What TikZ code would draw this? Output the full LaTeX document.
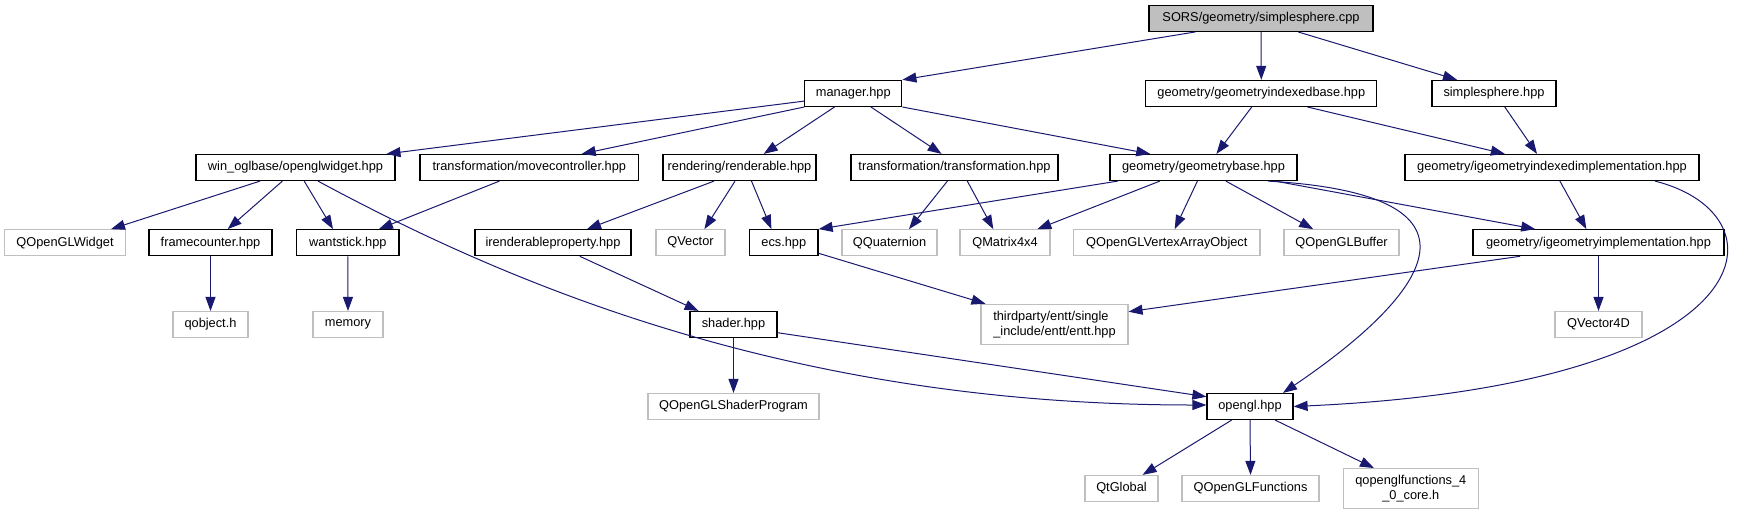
\documentclass[tikz,border=0pt]{standalone}
\usepackage{fontspec}
\setmainfont{Liberation Sans}
\usetikzlibrary{arrows.meta}
\definecolor{edgeblue}{HTML}{191970}
\definecolor{extgrey}{HTML}{BFBFBF}
\begin{document}
\begin{tikzpicture}[x=1pt,y=-1pt,
 every node/.style={font=\fontsize{12.8}{14.5}\selectfont, inner sep=0pt, minimum height=26pt},
 filebox/.style={draw=black, line width=1.2pt},
 extbox/.style={draw=extgrey, line width=1.1pt},
 rootbox/.style={draw=black, fill=extgrey, line width=1.2pt},
 dep/.style={draw=edgeblue, line width=1pt, -{Triangle[length=14pt,width=10pt]}, edgeblue}]
\useasboundingbox (0,0) rectangle (1745,515);
% row 1
\node[rootbox, minimum width=224pt] (sors) at (1261,18.3) {SORS/geometry/simplesphere.cpp};
% row 2
\node[filebox, minimum width=97pt] (manager) at (853.3,93.4) {manager.hpp};
\node[filebox, minimum width=231pt] (gib) at (1261.3,93.4) {geometry/geometryindexedbase.hpp};
\node[filebox, minimum width=124pt] (ss) at (1494,93.4) {simplesphere.hpp};
% row 3
\node[filebox, minimum width=199pt] (ogw) at (295.5,167.5) {win\_oglbase/openglwidget.hpp};
\node[filebox, minimum width=218.6pt] (movec) at (529.3,167.5) {transformation/movecontroller.hpp};
\node[filebox, minimum width=153pt] (rend) at (739.5,167.5) {rendering/renderable.hpp};
\node[filebox, minimum width=207pt] (trans) at (954.5,167.5) {transformation/transformation.hpp};
\node[filebox, minimum width=187pt] (gbase) at (1203.5,167.5) {geometry/geometrybase.hpp};
\node[filebox, minimum width=294pt] (gidx) at (1552,167.5) {geometry/igeometryindexedimplementation.hpp};
% row 4
\node[extbox, minimum width=121pt] (qglw) at (65,242.7) {QOpenGLWidget};
\node[filebox, minimum width=123pt] (fc) at (210.5,242.7) {framecounter.hpp};
\node[filebox, minimum width=102.4pt] (ws) at (347.8,242.7) {wantstick.hpp};
\node[filebox, minimum width=156pt] (irp) at (553,242.7) {irenderableproperty.hpp};
\node[extbox, minimum width=69pt] (qvec) at (690.5,242.7) {QVector};
\node[filebox, minimum width=68.5pt] (ecs) at (783.8,242.7) {ecs.hpp};
\node[extbox, minimum width=95pt] (qquat) at (889.5,242.7) {QQuaternion};
\node[extbox, minimum width=90pt] (qmat) at (1005,242.7) {QMatrix4x4};
\node[extbox, minimum width=186.4pt] (qvao) at (1166.8,242.7) {QOpenGLVertexArrayObject};
\node[extbox, minimum width=115pt] (qbuf) at (1341.5,242.7) {QOpenGLBuffer};
\node[filebox, minimum width=251pt] (gimpl) at (1598.5,242.7) {geometry/igeometryimplementation.hpp};
% row 5
\node[extbox, minimum width=75pt] (qobj) at (210.5,324.5) {qobject.h};
\node[extbox, minimum width=70pt] (mem) at (348,324.5) {memory};
\node[filebox, minimum width=87pt] (shader) at (733.5,324.5) {shader.hpp};
\node[extbox, minimum width=147pt, minimum height=40.4pt, align=left] (entt) at (1054.5,324.5) {thirdparty/entt/single\\\_include/entt/entt.hpp};
\node[extbox, minimum width=87pt] (qv4d) at (1598.5,324.5) {QVector4D};
% row 6
\node[extbox, minimum width=171pt] (qglsp) at (733.5,406.5) {QOpenGLShaderProgram};
\node[filebox, minimum width=86pt] (gl) at (1250,406.5) {opengl.hpp};
% row 7
\node[extbox, minimum width=73pt] (qtg) at (1121.5,488.4) {QtGlobal};
\node[extbox, minimum width=137pt] (qglf) at (1250.5,488.4) {QOpenGLFunctions};
\node[extbox, minimum width=134.5pt, minimum height=40pt, align=center] (qglf40) at (1410.8,488.6) {qopenglfunctions\_4\\\_0\_core.h};

% edges
\draw[dep] ([xshift=-65.5pt]sors.south) -- (manager.north east);
\draw[dep] (sors.south) -- (gib.north);
\draw[dep] ([xshift=37pt]sors.south) -- ([xshift=-37pt]ss.north);
\draw[dep] ([yshift=-7.7pt]manager.west) -- ([xshift=91pt]ogw.north);
\draw[dep] (manager.south west) -- ([xshift=52.4pt]movec.north);
\draw[dep] ([xshift=-18.8pt]manager.south) -- ([xshift=24.2pt]rend.north);
\draw[dep] ([xshift=17.6pt]manager.south) -- ([xshift=-12.9pt]trans.north);
\draw[dep] (manager.south east) -- ([xshift=-53.3pt]gbase.north);
\draw[dep] ([xshift=-9.6pt]gib.south) -- ([xshift=12.9pt]gbase.north);
\draw[dep] ([xshift=46.2pt]gib.south) -- ([xshift=-47.2pt]gidx.north);
\draw[dep] ([xshift=10.8pt]ss.south) -- ([xshift=-15pt]gidx.north);
\draw[dep] ([xshift=-35.5pt]ogw.south) -- ([xshift=46pt]qglw.north);
\draw[dep] ([xshift=-13.1pt]ogw.south) -- ([xshift=17.2pt]fc.north);
\draw[dep] ([xshift=8.7pt]ogw.south) -- ([xshift=-14.8pt]ws.north);
\draw[dep] ([xshift=22.5pt]ogw.south) .. controls (520,290) and (800,405) .. ([yshift=1.5pt]gl.west);
\draw[dep] ([xshift=-29.9pt]movec.south) -- ([xshift=31.1pt]ws.north);
\draw[dep] ([xshift=-25.5pt]rend.south) -- ([xshift=34pt]irp.north);
\draw[dep] ([xshift=-4.5pt]rend.south) -- ([xshift=13.9pt]qvec.north);
\draw[dep] ([xshift=12pt]rend.south) -- ([xshift=-12.4pt]ecs.north);
\draw[dep] ([xshift=-7.1pt]trans.south) -- ([xshift=19.5pt]qquat.north);
\draw[dep] ([xshift=12.8pt]trans.south) -- ([xshift=-11.7pt]qmat.north);
\draw[dep] ([xshift=-85.8pt]gbase.south) -- (ecs.north east);
\draw[dep] ([xshift=-43.7pt]gbase.south) -- ([xshift=32.3pt]qmat.north);
\draw[dep] ([xshift=-6.1pt]gbase.south) -- ([xshift=7.9pt]qvao.north);
\draw[dep] ([xshift=22.4pt]gbase.south) -- ([xshift=-28.3pt]qbuf.north);
\draw[dep] ([xshift=71.7pt]gbase.south) -- ([xshift=-63.3pt]gimpl.north);
\draw[dep] ([xshift=64.5pt]gbase.south) .. controls (1510,195) and (1420,300) .. ([xshift=33pt]gl.north);
\draw[dep] ([xshift=7.9pt]gidx.south) -- ([xshift=-12.1pt]gimpl.north);
\draw[dep] ([xshift=103pt]gidx.south) .. controls (1790,215) and (1770,385) .. (gl.east);
\draw[dep] (fc.south) -- (qobj.north);
\draw[dep] (ws.south) -- (mem.north);
\draw[dep] ([xshift=26.8pt]irp.south) -- ([xshift=-34.9pt]shader.north);
\draw[dep] ([yshift=3pt]ecs.south east) -- ([xshift=5pt]entt.north west);
\draw[dep] ([xshift=-78.5pt]gimpl.south) -- ([yshift=12.8pt]entt.east);
\draw[dep] (gimpl.south) -- (qv4d.north);
\draw[dep] (shader.south) -- (qglsp.north);
\draw[dep] ([yshift=-8.2pt]shader.east) -- ([yshift=9.8pt]gl.west);
\draw[dep] ([xshift=-18.4pt]gl.south) -- ([xshift=21.1pt]qtg.north);
\draw[dep] (gl.south) -- (qglf.north);
\draw[dep] ([xshift=25.2pt]gl.south) -- ([xshift=-36.8pt]qglf40.north);
\end{tikzpicture}
\end{document}
